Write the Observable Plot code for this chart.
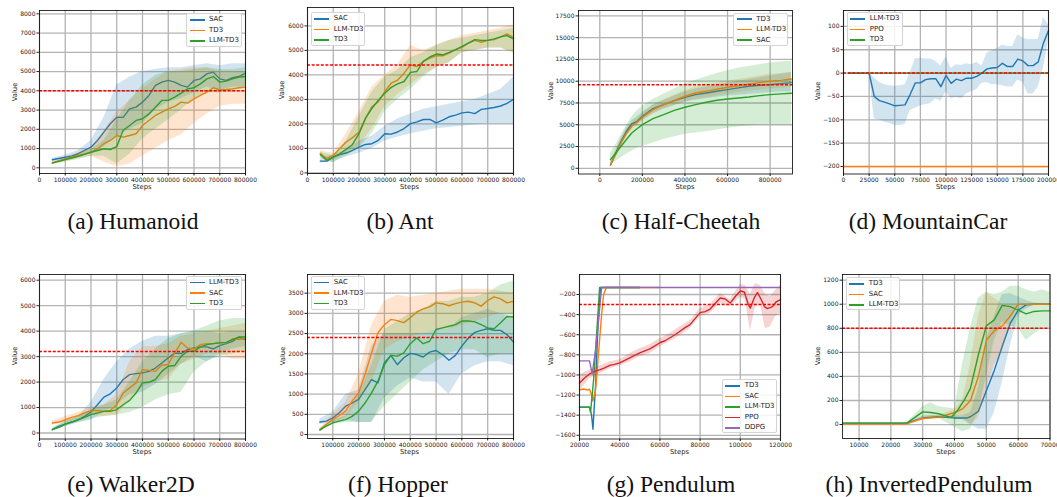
<!DOCTYPE html>
<html><head><meta charset="utf-8">
<script src="https://cdn.jsdelivr.net/npm/d3@7"></script>
<script src="https://cdn.jsdelivr.net/npm/@observablehq/plot@0.6"></script>
<style>
html,body{margin:0;padding:0;background:#fff;overflow:hidden}
#root{position:relative;width:1057px;height:497px;overflow:hidden}
.cap{position:absolute;font-family:"Liberation Serif","Times New Roman",serif;font-size:23.5px;line-height:20px;white-space:nowrap;transform:translateX(-50%);color:#111}
.axl{position:absolute;font-family:"DejaVu Sans",sans-serif;font-size:6.8px;line-height:8px;white-space:nowrap;color:#222}
.leg{position:absolute;border:1px solid #d4d4d4;border-radius:2px;background:rgba(255,255,255,0.85);font-family:"DejaVu Sans",sans-serif;font-size:7px;color:#222;box-sizing:border-box}
.leg .ln{position:absolute;height:1.5px}
.leg .tx{position:absolute;line-height:8px;white-space:nowrap}
</style></head><body><div id="root"></div>
<script>
// ---------- shared step grids ----------
const steps25k = [50000,75000,100000,125000,150000,175000,200000,225000,250000,275000,300000,325000,350000,375000,400000,425000,450000,475000,500000,525000,550000,575000,600000,625000,650000,675000,700000,725000,750000,775000,800000];
const steps50k = [50000,100000,150000,200000,250000,300000,350000,400000,450000,500000,550000,600000,650000,700000,750000,800000];

// ---------- (a) Humanoid ----------
const humSAC = [415,480,550,620,730,900,1070,1420,1850,2290,2630,2620,3060,3150,3410,3760,4280,4450,4540,4450,4280,4190,4540,4620,4880,4970,4620,4540,4680,4740,4920];
const humTD3 = [260,370,470,550,640,720,810,990,1250,1420,1680,1590,1680,1770,2200,2460,2720,2890,3060,3190,3410,3360,3580,3760,3930,4160,4050,4070,4100,4160,4190];
const humLLM = [240,330,430,510,600,700,810,900,990,950,1100,1950,2200,2460,2550,2800,3150,3500,3500,3670,3880,4100,4160,4360,4620,4740,4450,4500,4620,4710,4740];
const humSAClo = [330,450,550,700,1100,1600,2000,2300,3000,3400,3600,3900,4200,4000,4200,4200];
const humSAChi = [500,650,900,1400,2600,4300,4700,5000,5100,5200,5200,5300,5400,5300,5400,5400];
const humTD3lo = [200,300,450,600,300,50,200,600,1000,1400,1700,2300,2800,3200,3300,3300];
const humTD3hi = [330,450,800,1000,1900,2900,3500,4100,4600,5000,5100,5200,5200,5000,5000,5000];
const humLLMlo = [180,300,450,600,600,200,700,1500,2000,2500,3000,3600,3900,3900,4000,4200];
const humLLMhi = [300,450,700,950,1400,2500,3500,4300,4800,5000,5000,5100,5200,5100,5100,5200];

// ---------- (b) Ant ----------
const antSAC = [480,480,640,750,810,920,1050,1160,1190,1330,1600,1580,1670,1810,2010,2080,2180,2180,2040,2150,2290,2360,2450,2480,2420,2590,2630,2670,2730,2840,3000];
const antLLM = [780,580,710,990,1260,1440,1670,2220,2700,2900,3320,3660,3790,4070,4410,4340,4550,4680,4790,4780,4890,5030,5120,5300,5410,5330,5410,5440,5550,5670,5530];
const antTD3 = [750,510,640,780,960,1160,1600,2220,2630,2970,3250,3490,3630,3730,4100,4140,4550,4730,4850,4820,4920,5030,5160,5300,5440,5410,5410,5470,5550,5600,5470];
const antSAClo = [400,450,650,800,1000,1300,1450,1600,1700,1800,1850,1900,1950,2000,2000,2000];
const antSAChi = [560,750,900,1300,1500,1900,2200,2400,2600,2700,2800,2900,3000,3200,3400,3900];
const antLLMlo = [600,500,800,1100,1800,2700,3200,3600,4000,4300,4500,4900,5000,5100,5100,4900];
const antLLMhi = [900,800,1600,2500,3500,4000,4400,5200,5000,5200,5400,5600,5700,5800,5900,6050];
const antTD3lo = [600,400,700,1000,1600,2500,3000,3400,3900,4300,4500,4900,5000,5100,5100,4900];
const antTD3hi = [850,700,1300,2300,3300,3900,4200,4700,4900,5200,5400,5500,5600,5700,5800,5900];

// ---------- (c) Half-Cheetah ----------
const hcSteps = [50000,75000,100000,125000,150000,175000,200000,250000,300000,350000,400000,450000,500000,550000,600000,650000,700000,750000,800000,850000,900000];
const hcTD3 = [345,1760,3100,4250,5090,5400,5970,6850,7310,7770,8150,8460,8650,8840,9030,9230,9420,9530,9610,9720,9840];
const hcLLM = [345,1600,2910,4000,4820,5300,5860,6740,7310,7810,8270,8650,8840,9070,9300,9460,9650,9840,9990,10100,10260];
const hcSAC = [1000,1760,2530,3300,4060,4550,5020,5700,6160,6660,7010,7310,7580,7810,7960,8080,8190,8350,8460,8540,8610];
const hcTD3lo = [200,1400,2700,3900,4700,5000,5500,6300,6800,7200,7600,7800,8000,8150,8300,8400,8500,8600,8700,8750,8800];
const hcTD3hi = [500,2100,3500,4600,5500,5900,6400,7300,7800,8300,8750,9100,9300,9550,9800,10000,10200,10400,10600,10800,11000];
const hcLLMlo = [200,1300,2500,3600,4400,4900,5400,6200,6800,7200,7600,7900,8100,8300,8500,8700,8850,9000,9100,9200,9300];
const hcLLMhi = [500,1900,3300,4400,5200,5700,6300,7200,7800,8400,8900,9300,9600,9800,10000,10200,10400,10600,10800,10900,11000];
const hcSAClo = [420,800,1200,1600,2000,2300,2500,2900,3300,3600,3900,4050,4200,4400,4600,4750,4900,5000,5000,5000,5000];
const hcSAChi = [1700,2700,3800,4900,5900,6600,7100,7900,8500,9100,9700,10100,10500,10900,11200,11500,11700,11900,12100,12200,12300];

// ---------- (d) MountainCar ----------
const mcSteps = [5000,10000,15000,20000,25000,30000,35000,40000,45000,50000,55000,60000,65000,70000,75000,80000,85000,90000,95000,100000,105000,110000,115000,120000,125000,130000,135000,140000,145000,150000,155000,160000,165000,170000,175000,180000,185000,190000,195000,200000];
const mcLLM = [0,0,0,0,0,-50,-59,-62,-66,-70,-69,-68,-46,-21,-21,-14,-12,-12,-29,-5,-22,-13,-16,-11,-11,-7,0,9,11,12,21,14,14,30,26,16,16,24,64,91];
const mcLLMlo = [0,0,0,0,0,-98,-100,-105,-108,-112,-112,-110,-80,-75,-70,-68,-65,-55,-60,-40,-55,-52,-55,-45,-40,-35,-22,-20,-25,-25,-27,-30,-30,-15,-20,-45,-45,-30,10,70];
const mcLLMhi = [0,0,0,0,0,-10,-20,-25,-27,-28,-27,-25,0,30,32,30,30,25,15,35,10,18,16,20,18,23,15,43,48,52,60,57,57,82,75,72,72,72,119,104];
const mcPPOsteps = [0,200000];
const mcPPO = [-200,-200];
const mcTD3steps = [5000,200000];
const mcTD3 = [0,0];

// ---------- (e) Walker2D ----------
const wkLLM = [130,260,350,430,520,655,825,1110,1410,1540,1770,2100,2290,2330,2360,2420,2550,2750,2950,3140,3120,3280,3340,3380,3380,3300,3430,3510,3600,3760,3670];
const wkSAC = [390,430,520,615,680,790,880,890,850,890,1110,1570,1770,1970,2490,2460,2420,2660,2690,3140,3560,3340,3300,3470,3510,3510,3560,3540,3700,3670,3730];
const wkTD3 = [130,220,350,430,520,615,720,790,850,850,920,1110,1280,1570,1970,1990,2100,2420,2620,2650,3010,3210,3210,3380,3470,3510,3540,3560,3670,3770,3770];
const wkLLMlo = [80,250,400,500,800,1100,1500,1600,1900,2300,2700,3000,2800,3100,3300,3400];
const wkLLMhi = [180,450,650,1200,2100,2800,3300,3600,3800,3800,3900,4000,4000,3900,4000,4000];
const wkSAClo = [300,400,550,700,650,700,1300,1800,2000,2100,2700,2900,3100,3100,2900,2900];
const wkSAChi = [480,650,800,1000,1100,1500,2800,3400,3400,3500,3800,3900,4000,4100,4200,4300];
const wkTD3lo = [80,250,400,550,650,700,800,1000,1300,1500,1600,2400,2800,3000,3100,3200];
const wkTD3hi = [180,450,650,900,1100,1300,2000,2800,3300,3700,3900,4000,4200,4400,4500,4500];

// ---------- (f) Hopper ----------
const hpSAC = [310,330,410,540,700,780,870,1110,1360,1280,1780,1960,1730,1900,2010,1980,1920,2040,2080,1980,1840,1960,2190,2390,2530,2580,2620,2580,2580,2470,2290];
const hpLLM = [120,250,370,470,580,830,1030,1490,2020,2520,2720,2850,2820,2770,2890,3030,3110,3160,3260,3240,3190,3240,3280,3300,3260,3180,3320,3410,3360,3260,3300];
const hpTD3 = [110,210,290,330,370,450,580,780,1030,1320,1730,1960,1940,2020,2250,2390,2250,2310,2600,2640,2680,2720,2810,2810,2790,2720,2640,2620,2770,2920,2910];
const hpSAClo = [250,300,350,300,300,900,1200,1400,1300,1300,1000,1500,1700,1800,1800,1700];
const hpSAChi = [380,550,1000,1100,2200,2500,2500,2500,2500,2600,2600,2900,3000,3100,3000,2900];
const hpLLMlo = [100,300,400,800,1300,2100,2300,2400,2500,2600,2600,2700,2800,2900,3000,3000];
const hpLLMhi = [150,500,800,1500,2700,3300,3450,3400,3450,3500,3550,3600,3600,3600,3550,3500];
const hpTD3lo = [80,250,300,300,300,700,1000,1300,1600,1800,2000,2100,2100,1900,2000,2000];
const hpTD3hi = [140,350,450,1000,1700,2600,2800,3000,3100,3300,3300,3400,3400,3500,3700,3800];

// ---------- (g) Pendulum ----------
const pdTD3steps = [20000,25000,26000,26700,28000,29000,30000,30600,35000,40000,45000,50000];
const pdTD3 = [-1320,-1320,-1400,-1540,-1100,-600,-250,-130,-130,-130,-130,-130];
const pdSACsteps = [20000,22000,24000,25000,26000,26700,28000,29000,30000,31000,32000,33300,40000,50000,60000];
const pdSAC = [-1150,-1140,-1150,-1140,-1200,-1260,-1150,-900,-650,-400,-200,-130,-130,-130,-130];
const pdLLMsteps = [20000,25000,25500,27000,28500,30000,40000,50000];
const pdLLM = [-1320,-1320,-1370,-1050,-600,-130,-130,-130];
const pdDDPGsteps = [20000,25000,26300,28000,29500,31000,120000];
const pdDDPG = [-860,-860,-990,-750,-450,-130,-130];
const pdPPOsteps = [20000,22500,25000,27500,30000,32500,35000,37500,40000,42500,45000,47500,50000,52500,55000,57500,60000,62500,65000,67500,70000,72500,75000,77500,80000,82500,85000,87500,90000,92500,95000,97500,100000,102000,104000,105000,107000,108500,110000,112000,113500,116000,118000,120000];
const pdPPO = [-1080,-1030,-990,-965,-950,-930,-905,-895,-880,-855,-830,-805,-780,-760,-740,-710,-680,-660,-630,-600,-565,-530,-500,-440,-380,-370,-345,-290,-235,-245,-285,-220,-165,-175,-300,-335,-230,-180,-235,-320,-340,-320,-270,-250];
const pdPPObandSteps = [20000,25000,30000,35000,40000,45000,50000,55000,60000,65000,70000,75000,80000,85000,90000,95000,100000,102500,105000,107500,110000,112500,115000,117500,120000];
const pdPPOlo = [-1160,-1040,-990,-940,-910,-870,-820,-790,-720,-670,-610,-540,-420,-390,-290,-320,-230,-250,-560,-330,-300,-540,-520,-420,-390];
const pdPPOhi = [-1000,-950,-910,-870,-850,-790,-740,-700,-640,-590,-520,-460,-340,-300,-190,-250,-100,-110,-200,-90,-110,-200,-220,-160,-110];

// ---------- (h) InvertedPendulum ----------
const ipTD3steps = [5000,25000,30000,35000,40000,44000,45000,47500,50000,52500,55000,57500,60000,62500,65000,70000];
const ipTD3 = [12,12,55,65,55,55,65,110,280,450,650,840,950,995,1000,1000];
const ipSACsteps = [5000,25000,30000,35000,40000,42500,45000,47500,50000,52500,55000,57500,60000,70000];
const ipSAC = [5,5,50,60,100,130,200,400,700,780,820,900,1000,1000];
const ipLLMsteps = [5000,25000,30000,32500,35000,37500,39000,41000,43000,45000,47500,50000,52500,55000,57500,60000,62500,65000,67500,70000];
const ipLLM = [12,12,105,100,90,70,60,120,200,300,580,820,870,990,980,950,920,940,945,945];
const ipBandSteps = [25000,30000,32500,35000,40000,42500,45000,47500,50000,52500,55000,57500,60000,62500,65000,67500,70000];
const ipTD3lo = [12,40,50,55,45,40,0,-40,-40,100,350,650,900,960,990,995,1000];
const ipTD3hi = [12,70,75,75,70,70,100,300,700,900,1080,1090,1060,1030,1010,1005,1000];
const ipSAClo = [5,35,45,50,50,60,0,50,300,500,600,850,1000,1000,1000,1000,1000];
const ipSAChi = [5,65,75,75,120,200,500,900,1100,1050,1000,1000,1000,1000,1000,1000,1000];
const ipLLMlo = [12,60,50,50,-20,-60,-40,100,400,700,850,820,800,700,750,800,800];
const ipLLMhi = [12,150,180,150,130,500,800,1050,1100,1080,1100,1150,1150,1120,1100,1120,1100];

// ---------- tick labels ----------
const ticks800k = [0,100000,200000,300000,400000,500000,600000,700000,800000];
const ticksHopperX = [100000,200000,300000,400000,500000,600000,700000,800000];
const ticksHCx = [0,200000,400000,600000,800000];
const ticksMCx = [0,25000,50000,75000,100000,125000,150000,175000,200000];
const ticksPDx = [20000,40000,60000,80000,100000,120000];
const ticksIPx = [10000,20000,30000,40000,50000,60000,70000];
const ticksHumY = [0,1000,2000,3000,4000,5000,6000,7000,8000];
const ticksAntY = [0,1000,2000,3000,4000,5000,6000];
const ticksHCy = [0,2500,5000,7500,10000,12500,15000,17500];
const ticksMCy = [-200,-150,-100,-50,0,50,100];
const ticksWkY = [0,1000,2000,3000,4000,5000,6000];
const ticksHpY = [0,500,1000,1500,2000,2500,3000,3500];
const ticksPDy = [-1600,-1400,-1200,-1000,-800,-600,-400,-200];
const ticksIPy = [0,200,400,600,800,1000,1200];

const C = {blue:"#1f77b4", orange:"#ff7f0e", green:"#2ca02c", red:"#d62728", purple:"#9467bd"};

const pts = (xs, ys) => xs.map((x, i) => ({x, y: ys[i]}));
const bnd = (xs, lo, hi) => xs.map((x, i) => ({x, lo: lo[i], hi: hi[i]}));
const fmt = d => (d < 0 ? "\u2212" + Math.abs(d) : String(d));

const panels = [
  {frame:[39,245,10,173], x:[0,800000], y:[-296,8171], xt:ticks800k, yt:ticksHumY, ref:4000, ylx:15,
   caption:"(a) Humanoid", capX:133, capY:211, legend:[186,13.3,56,33.4],
   series:[
     {name:"SAC", color:C.blue, data:pts(steps25k,humSAC), band:bnd(steps50k,humSAClo,humSAChi)},
     {name:"TD3", color:C.orange, data:pts(steps25k,humTD3), band:bnd(steps50k,humTD3lo,humTD3hi)},
     {name:"LLM-TD3", color:C.green, data:pts(steps25k,humLLM), band:bnd(steps50k,humLLMlo,humLLMhi)}]},
  {frame:[306.5,512.5,7,173], x:[0,800000], y:[-25,6750], xt:ticks800k, yt:ticksAntY, ref:4400, ylx:282,
   caption:"(b) Ant", capX:400, capY:211, legend:[310.7,12.3,54.3,33.4],
   series:[
     {name:"SAC", color:C.blue, data:pts(steps25k,antSAC), band:bnd(steps50k,antSAClo,antSAChi)},
     {name:"LLM-TD3", color:C.orange, data:pts(steps25k,antLLM), band:bnd(steps50k,antLLMlo,antLLMhi)},
     {name:"TD3", color:C.green, data:pts(steps25k,antTD3), band:bnd(steps50k,antTD3lo,antTD3hi)}]},
  {frame:[578,792,9.5,173], x:[-100000,905000], y:[-655,18120], xt:ticksHCx, yt:ticksHCy, ref:9600, ylx:551,
   caption:"(c) Half-Cheetah", capX:681, capY:211, legend:[733.3,12.7,55,33.4],
   series:[
     {name:"TD3", color:C.blue, data:pts(hcSteps,hcTD3), band:bnd(hcSteps,hcTD3lo,hcTD3hi)},
     {name:"LLM-TD3", color:C.orange, data:pts(hcSteps,hcLLM), band:bnd(hcSteps,hcLLMlo,hcLLMhi)},
     {name:"SAC", color:C.green, data:pts(hcSteps,hcSAC), band:bnd(hcSteps,hcSAClo,hcSAChi)}]},
  {frame:[843,1048,9.5,173], x:[0,200000], y:[-216,134], xt:ticksMCx, yt:ticksMCy, ref:0, ylx:818,
   caption:"(d) MountainCar", capX:928, capY:211, legend:[846.7,12.3,56,33.4],
   series:[
     {name:"LLM-TD3", color:C.blue, data:pts(mcSteps,mcLLM), band:bnd(mcSteps,mcLLMlo,mcLLMhi)},
     {name:"PPO", color:C.orange, data:pts(mcPPOsteps,mcPPO)},
     {name:"TD3", color:C.green, data:pts(mcTD3steps,mcTD3)}]},
  {frame:[39,245,273.5,438], x:[0,800000], y:[-236,6224], xt:ticks800k, yt:ticksWkY, ref:3200, ylx:15,
   caption:"(e) Walker2D", capX:131, capY:474, legend:[186,276,55.7,34],
   series:[
     {name:"LLM-TD3", color:C.blue, data:pts(steps25k,wkLLM), band:bnd(steps50k,wkLLMlo,wkLLMhi)},
     {name:"SAC", color:C.orange, data:pts(steps25k,wkSAC), band:bnd(steps50k,wkSAClo,wkSAChi)},
     {name:"TD3", color:C.green, data:pts(steps25k,wkTD3), band:bnd(steps50k,wkTD3lo,wkTD3hi)}]},
  {frame:[306.5,512.5,273.5,437.5], x:[2000,800000], y:[-99,3963], xt:ticksHopperX, yt:ticksHpY, ref:2400, ylx:283,
   caption:"(f) Hopper", capX:398, capY:474, legend:[310.7,276,54.3,34],
   series:[
     {name:"SAC", color:C.blue, data:pts(steps25k,hpSAC), band:bnd(steps50k,hpSAClo,hpSAChi)},
     {name:"LLM-TD3", color:C.orange, data:pts(steps25k,hpLLM), band:bnd(steps50k,hpLLMlo,hpLLMhi)},
     {name:"TD3", color:C.green, data:pts(steps25k,hpTD3), band:bnd(steps50k,hpTD3lo,hpTD3hi)}]},
  {frame:[579,780,273.5,438], x:[20000,120000], y:[-1637,-1], xt:ticksPDx, yt:ticksPDy, ref:-300, ylx:551,
   caption:"(g) Pendulum", capX:671, capY:474, legend:[721.7,379.3,55,54],
   series:[
     {name:"TD3", color:C.blue, data:pts(pdTD3steps,pdTD3)},
     {name:"SAC", color:C.orange, data:pts(pdSACsteps,pdSAC)},
     {name:"LLM-TD3", color:C.green, data:pts(pdLLMsteps,pdLLM)},
     {name:"PPO", color:C.red, data:pts(pdPPOsteps,pdPPO), band:bnd(pdPPObandSteps,pdPPOlo,pdPPOhi)},
     {name:"DDPG", color:C.purple, data:pts(pdDDPGsteps,pdDDPG)}]},
  {frame:[842,1049.5,273.5,437.5], x:[4800,70000], y:[-116,1247], xt:ticksIPx, yt:ticksIPy, ref:800, ylx:818,
   caption:"(h) InvertedPendulum", capX:929, capY:474, legend:[845.7,277.3,54.3,33],
   series:[
     {name:"TD3", color:C.blue, data:pts(ipTD3steps,ipTD3), band:bnd(ipBandSteps,ipTD3lo,ipTD3hi)},
     {name:"SAC", color:C.orange, data:pts(ipSACsteps,ipSAC), band:bnd(ipBandSteps,ipSAClo,ipSAChi)},
     {name:"LLM-TD3", color:C.green, data:pts(ipLLMsteps,ipLLM), band:bnd(ipBandSteps,ipLLMlo,ipLLMhi)}]}
];

const root = document.getElementById("root");
const mL = 40, mR = 12, mT = 8, mB = 24;

for (const p of panels) {
  const [L, R, T, B] = p.frame;
  const marks = [
    Plot.ruleX(p.xt, {stroke:"#b3b3b3", strokeWidth:1.3}),
    Plot.ruleY(p.yt, {stroke:"#b3b3b3", strokeWidth:1.3})
  ];
  for (const s of p.series) {
    if (s.band) marks.push(Plot.areaY(s.band, {x:"x", y1:"lo", y2:"hi", fill:s.color, fillOpacity:0.2}));
    marks.push(Plot.line(s.data, {x:"x", y:"y", stroke:s.color, strokeWidth:1.4}));
  }
  marks.push(Plot.ruleY([p.ref], {stroke:"#ff0000", strokeWidth:1.5, strokeDasharray:"3,1.6"}));
  marks.push(Plot.frame({stroke:"#000", strokeWidth:0.8}));
  const svg = Plot.plot({
    width: R - L + mL + mR, height: B - T + mT + mB,
    marginLeft: mL, marginRight: mR, marginTop: mT, marginBottom: mB,
    style: {fontFamily:"DejaVu Sans, sans-serif", fontSize:"6px", color:"#222", background:"transparent", overflow:"visible"},
    x: {domain:p.x, ticks:p.xt, tickFormat:fmt, tickSize:2.5, tickPadding:1.5, label:null},
    y: {domain:p.y, ticks:p.yt, tickFormat:fmt, tickSize:2.5, tickPadding:1.5, label:null},
    marks
  });
  svg.style.position = "absolute";
  svg.style.left = (L - mL) + "px";
  svg.style.top = (T - mT) + "px";
  root.appendChild(svg);

  // axis labels
  const xl = document.createElement("div");
  xl.className = "axl"; xl.textContent = "Steps";
  xl.style.left = ((L + R) / 2) + "px"; xl.style.top = (B + 14) + "px";
  xl.style.transform = "translate(-50%,-50%)";
  root.appendChild(xl);
  const yl = document.createElement("div");
  yl.className = "axl"; yl.textContent = "Value";
  yl.style.left = p.ylx + "px"; yl.style.top = ((T + B) / 2) + "px";
  yl.style.transform = "translate(-50%,-50%) rotate(-90deg)";
  root.appendChild(yl);

  // legend
  const [lx, ly, lw, lh] = p.legend;
  const lg = document.createElement("div");
  lg.className = "leg";
  lg.style.left = lx + "px"; lg.style.top = ly + "px";
  lg.style.width = lw + "px"; lg.style.height = lh + "px";
  p.series.forEach((s, i) => {
    const cy = 5.7 + i * 10.5;
    const ln = document.createElement("div");
    ln.className = "ln"; ln.style.background = s.color;
    ln.style.left = "2.5px"; ln.style.width = "15px"; ln.style.top = (cy - 0.9) + "px";
    lg.appendChild(ln);
    const tx = document.createElement("div");
    tx.className = "tx"; tx.textContent = s.name;
    tx.style.left = "22px"; tx.style.top = (cy - 4.5) + "px";
    lg.appendChild(tx);
  });
  root.appendChild(lg);

  // caption
  const cp = document.createElement("div");
  cp.className = "cap"; cp.textContent = p.caption;
  cp.style.left = p.capX + "px"; cp.style.top = p.capY + "px";
  root.appendChild(cp);
}
</script></body></html>
